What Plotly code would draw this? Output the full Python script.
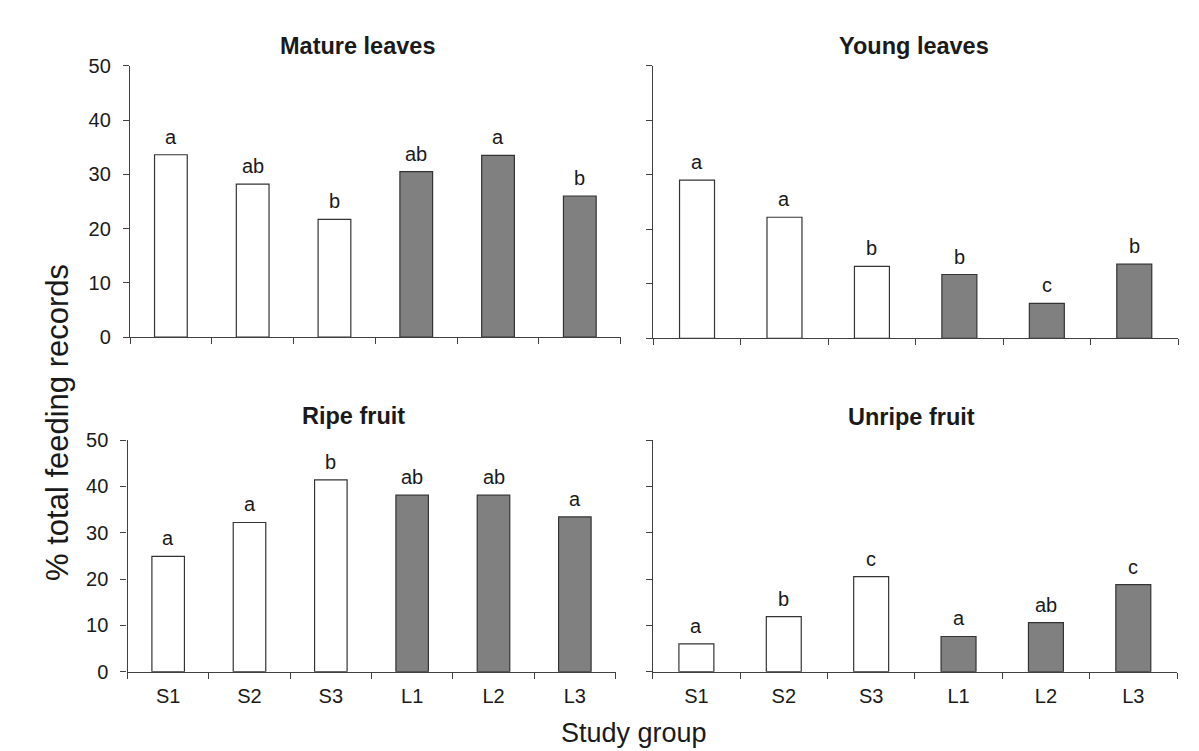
import plotly.graph_objects as go

# Study groups (S = small groups, L = large groups)
groups = ["S1", "S2", "S3", "L1", "L2", "L3"]
bar_colors = ["#ffffff", "#ffffff", "#ffffff", "#808080", "#808080", "#808080"]

# % of total feeding records per food item
mature_leaves = [33.6, 28.2, 21.7, 30.5, 33.5, 26.0]
young_leaves = [29.0, 22.2, 13.2, 11.7, 6.4, 13.6]
ripe_fruit = [24.9, 32.2, 41.4, 38.1, 38.1, 33.4]
unripe_fruit = [6.0, 11.9, 20.5, 7.6, 10.6, 18.8]

# Significance letters
mature_letters = ["a", "ab", "b", "ab", "a", "b"]
young_letters = ["a", "a", "b", "b", "c", "b"]
ripe_letters = ["a", "a", "b", "ab", "ab", "a"]
unripe_letters = ["a", "b", "c", "a", "ab", "c"]

panel_titles = ["Mature leaves", "Young leaves", "Ripe fruit", "Unripe fruit"]
y_ticks = [0, 10, 20, 30, 40, 50]

W, H = 1199, 751
FONT = "Arial, Liberation Sans, sans-serif"
INK = "#1a1a1a"
AXIS = "#404040"

def px_x(p):
    return p / W

def px_y(p):
    return 1 - p / H

# panel layout: (x domain in px, y domain in px [bottom, top]), title centre in px
panels = [
    dict(values=mature_leaves, letters=mature_letters, xd=(130, 620.7), yd=(337.2, 65.7),
         title_xy=(357.5, 46), ticklabels=True, xlabels=False),
    dict(values=young_leaves, letters=young_letters, xd=(653.3, 1178), yd=(338.3, 65.7),
         title_xy=(914, 46), ticklabels=False, xlabels=False),
    dict(values=ripe_fruit, letters=ripe_letters, xd=(127.5, 615.5), yd=(671.7, 440),
         title_xy=(353, 416), ticklabels=True, xlabels=True),
    dict(values=unripe_fruit, letters=unripe_letters, xd=(652.7, 1177), yd=(671.7, 440),
         title_xy=(911, 417), ticklabels=False, xlabels=True),
]

fig = go.Figure()
annotations = []

for i, p in enumerate(panels):
    n = i + 1
    xa = "x" if n == 1 else f"x{n}"
    ya = "y" if n == 1 else f"y{n}"
    fig.add_trace(go.Bar(
        x=groups, y=p["values"], xaxis=xa, yaxis=ya,
        width=0.4,
        marker=dict(color=bar_colors, line=dict(color="#333333", width=1.2)),
        showlegend=False, hoverinfo="x+y",
    ))
    for g, v, t in zip(groups, p["values"], p["letters"]):
        annotations.append(dict(
            x=g, y=v, xref=xa, yref=ya, text=t, showarrow=False,
            yanchor="bottom", yshift=5,
            font=dict(family=FONT, size=20, color=INK),
        ))
    annotations.append(dict(
        x=px_x(p["title_xy"][0]), y=px_y(p["title_xy"][1]), xref="paper", yref="paper",
        text=f"<b>{panel_titles[i]}</b>", showarrow=False,
        xanchor="center", yanchor="middle",
        font=dict(family=FONT, size=23.5, color=INK),
    ))

    xkey = "xaxis" if n == 1 else f"xaxis{n}"
    ykey = "yaxis" if n == 1 else f"yaxis{n}"
    fig.update_layout(**{
        xkey: dict(
            domain=[px_x(p["xd"][0]), px_x(p["xd"][1])], anchor=ya,
            type="category", range=[-0.5, 5.5], automargin=False,
            tickson="boundaries", ticks="outside", ticklen=6, tickwidth=1.3,
            tickcolor=AXIS, showline=True, linecolor=AXIS, linewidth=1.3,
            showgrid=False, zeroline=False,
            showticklabels=p["xlabels"], ticklabelstandoff=6,
            tickfont=dict(family=FONT, size=20, color=INK),
            fixedrange=True,
        ),
        ykey: dict(
            domain=[px_y(p["yd"][0]), px_y(p["yd"][1])], anchor=xa,
            range=[0, 50], tickvals=y_ticks, ticks="outside", ticklen=6,
            automargin=False,
            tickwidth=1.3, tickcolor=AXIS, showline=True, linecolor=AXIS,
            linewidth=1.3, showgrid=False, zeroline=False,
            showticklabels=p["ticklabels"], ticklabelstandoff=8,
            tickfont=dict(family=FONT, size=20, color=INK),
            fixedrange=True,
        ),
    })

# shared axis titles
annotations.append(dict(
    x=px_x(57), y=px_y(423), xref="paper", yref="paper",
    text="% total feeding records", textangle=-90, showarrow=False,
    xanchor="center", yanchor="middle",
    font=dict(family=FONT, size=31, color=INK),
))
annotations.append(dict(
    x=px_x(634), y=px_y(733), xref="paper", yref="paper",
    text="Study group", showarrow=False,
    xanchor="center", yanchor="middle",
    font=dict(family=FONT, size=27, color=INK),
))

fig.update_layout(
    width=W, height=H,
    margin=dict(l=0, r=0, t=0, b=0, autoexpand=False),
    paper_bgcolor="white", plot_bgcolor="white",
    annotations=annotations,
    bargap=0.6,
)

fig.write_html("out.html")
